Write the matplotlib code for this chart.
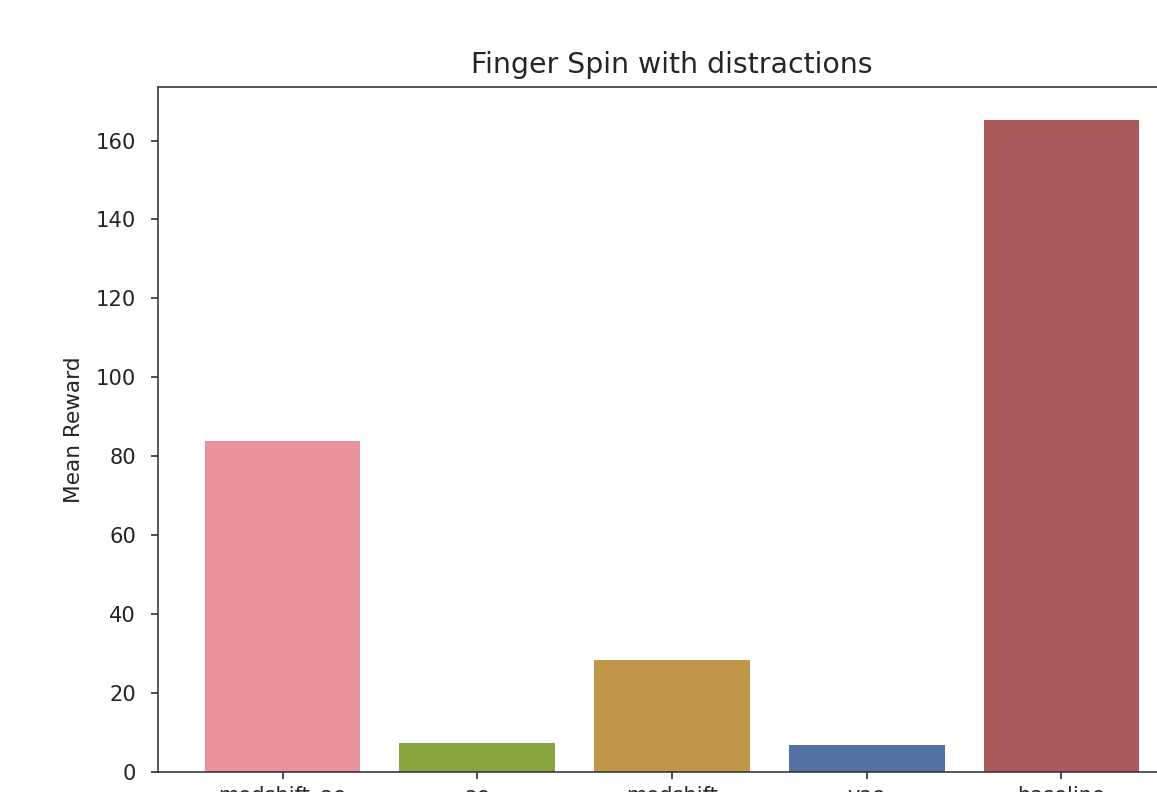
import matplotlib
matplotlib.use("Agg")
import matplotlib.pyplot as plt

# Data
methods = ["modshift_ae", "ae", "modshift", "vae", "baseline"]
mean_reward = [83.9, 7.3, 28.4, 6.8, 165.3]
bar_colours = ["#e8929f", "#87a43f", "#c0964a", "#5471a4", "#ad5a5c"]

DPI = 144
fig = plt.figure(figsize=(1157 / DPI, 792 / DPI), dpi=DPI)
# axes extends beyond the right edge of the picture, as in the reference crop
ax = fig.add_axes([158 / 1157, 20 / 792, 1028 / 1157, 685 / 792])

ax.bar(range(len(methods)), mean_reward, width=0.8, color=bar_colours)
ax.set_xticks(range(len(methods)))
ax.set_xticklabels(methods)
ax.tick_params(labelsize=10.5, colors="#262626", labelcolor="#262626")
ax.tick_params(axis="y", pad=7.5)
ax.set_ylabel("Mean Reward", fontsize=10.8, labelpad=6, color="#262626")
ax.set_title("Finger Spin with distractions", fontsize=14.2, pad=7, color="#262626")
for spine in ax.spines.values():
    spine.set_edgecolor("#333333")

fig.savefig("out.png", dpi=DPI)
